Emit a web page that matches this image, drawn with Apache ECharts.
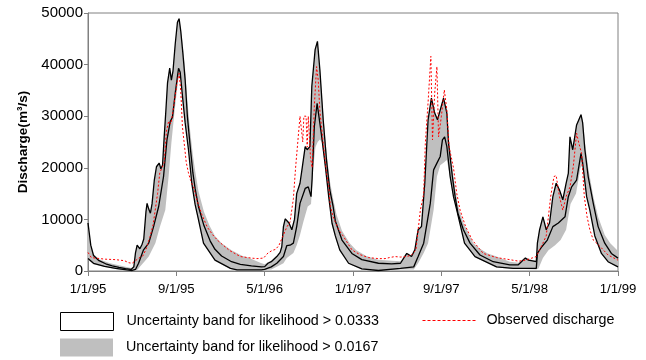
<!DOCTYPE html>
<html>
<head>
<meta charset="utf-8">
<script src="https://cdn.jsdelivr.net/npm/echarts@6/dist/echarts.min.js"></script>
<style>html,body{margin:0;padding:0;background:#fff}#c{width:646px;height:360px}</style>
</head>
<body>
<div id="c"></div>
<script>
// x values are months since 1 Jan 1995; y values are discharge in m3/s
const xTickLabels = ['1/1/95','9/1/95','5/1/96','1/1/97','9/1/97','5/1/98','1/1/99'];
const nameInner = 'Uncertainty band for likelihood > 0.0333';
const nameOuter = 'Uncertainty band for likelihood > 0.0167';
const nameObs = 'Observed discharge';

const innerUpper = [[0,9300],[0.25,5000],[0.5,3000],[1,2000],[1.6,1400],[2.2,1000],[2.8,700],[3.4,450],[3.9,300],[4.15,800],[4.3,3500],[4.45,5000],[4.7,4300],[4.9,5200],[5.05,6200],[5.25,11500],[5.35,13100],[5.5,12000],[5.65,11200],[5.8,13000],[6.0,17500],[6.2,20200],[6.45,20900],[6.6,19800],[6.75,20500],[6.9,26000],[7.05,31000],[7.2,36400],[7.4,39300],[7.55,37000],[7.7,38800],[7.9,44000],[8.1,48200],[8.25,48900],[8.4,46500],[8.6,42000],[8.8,37000],[9.0,30000],[9.26,24000],[9.5,19000],[9.7,16000],[10.0,12500],[10.5,8800],[11.07,5800],[11.5,4200],[12.1,2900],[13,1800],[13.8,1300],[14.8,1000],[15.7,800],[16.0,850],[16.3,1500],[16.6,1800],[17.1,2800],[17.4,3600],[17.55,4700],[17.7,8600],[17.86,10100],[18.2,9300],[18.46,8000],[18.7,10000],[18.9,15000],[19.2,17000],[19.4,20000],[19.67,24100],[19.85,23500],[20.1,24100],[20.27,35800],[20.57,42900],[20.78,44500],[21.0,39000],[21.3,29300],[21.6,21500],[21.9,15700],[22.2,12500],[22.4,9700],[23.0,6000],[23.9,3400],[24.8,2200],[26.3,1500],[27.5,1400],[28.3,1500],[28.87,3400],[29.3,2800],[29.6,4100],[29.9,8000],[30.2,8600],[30.5,17000],[30.8,29300],[31.1,33500],[31.4,30600],[31.65,29300],[31.9,31200],[32.2,33500],[32.5,30600],[32.65,24800],[33.0,18300],[33.25,14400],[33.5,11200],[34.0,8000],[34.6,5400],[35.5,3100],[36.7,1800],[38.2,1200],[38.97,1200],[39.6,2500],[39.9,2100],[40.6,1800],[40.7,5400],[40.9,8000],[41.2,10500],[41.5,8000],[41.8,9300],[42.1,14400],[42.4,17000],[42.7,15700],[43.0,13800],[43.3,17000],[43.5,18900],[43.65,26000],[43.9,23500],[44.25,28300],[44.65,30300],[44.8,28700],[45.0,23500],[45.3,18300],[45.76,13100],[46.2,8600],[46.8,5400],[47.4,3400],[48,2500]];

const innerLower = [[0,2400],[0.5,1500],[1.5,900],[2.5,500],[3.5,200],[4.0,100],[4.3,300],[4.58,1500],[5.03,4100],[5.5,5400],[5.94,8600],[6.4,12500],[6.84,18300],[7.15,25400],[7.45,29000],[7.65,29800],[7.9,34500],[8.2,39300],[8.35,38500],[8.56,33800],[8.8,28700],[9.1,23500],[9.4,17000],[9.7,12900],[10.0,10000],[10.46,5400],[11.5,2100],[12.9,500],[13.5,200],[15.7,200],[16.0,300],[16.6,800],[17.1,1500],[17.7,2800],[18.0,4900],[18.3,5000],[18.6,5400],[18.9,8600],[19.2,13100],[19.67,16000],[19.95,16300],[20.2,14400],[20.3,18000],[20.5,28000],[20.75,32500],[21.17,26000],[21.5,20200],[21.8,14400],[22.1,9250],[22.4,6800],[22.8,4100],[23.6,1500],[24.8,400],[26.3,100],[28.3,500],[29.5,800],[29.9,2800],[30.4,5400],[31.0,13100],[31.3,19600],[31.6,20900],[31.9,22200],[32.1,25400],[32.3,26000],[32.5,24100],[32.8,18300],[33.1,14400],[33.4,11800],[34.1,5400],[35.05,2800],[37,800],[38.5,500],[39.6,500],[40.6,500],[40.7,3400],[41.1,4700],[41.6,6000],[42.1,8600],[42.6,9300],[43.2,10500],[43.5,14400],[43.8,16300],[44.25,17600],[44.65,22800],[44.8,20900],[45.16,14400],[45.45,11800],[45.9,6800],[46.5,3400],[47.1,1800],[48,800]];

const outerUpper = [[0,9300],[0.25,5200],[0.5,3300],[1,2300],[2,1500],[3,1000],[3.9,600],[4.15,1000],[4.3,3600],[4.45,5100],[4.7,4500],[4.9,5400],[5.05,6400],[5.25,11700],[5.35,13300],[5.5,12200],[5.65,11400],[5.8,13200],[6.0,17700],[6.2,20400],[6.45,21100],[6.6,20000],[6.75,20700],[6.9,26200],[7.05,31200],[7.2,36600],[7.4,39500],[7.55,37200],[7.7,39000],[7.9,44200],[8.1,48400],[8.25,49100],[8.4,47000],[8.6,43500],[8.8,39000],[9.0,33000],[9.26,27000],[9.5,22500],[9.7,19500],[10.0,15500],[10.5,11500],[11.0,8800],[11.5,6800],[12.1,5400],[13,4000],[14,2900],[14.5,2600],[15.6,1600],[16.0,1300],[16.3,1700],[16.6,2000],[17.1,3000],[17.4,3800],[17.55,4900],[17.7,8800],[17.86,10300],[18.2,9500],[18.46,8200],[18.7,10200],[18.9,15200],[19.2,17200],[19.4,20200],[19.67,24300],[19.85,23700],[20.1,24300],[20.27,36000],[20.57,43100],[20.78,44700],[21.0,39500],[21.3,30500],[21.6,23000],[21.9,17500],[22.2,14000],[22.5,11000],[23.0,7800],[23.7,5400],[24.3,4000],[25.2,2900],[26.3,2200],[27.5,2000],[28.3,1900],[28.87,3600],[29.3,3000],[29.6,4300],[29.9,8200],[30.2,8800],[30.5,17200],[30.8,29500],[31.1,33700],[31.4,30800],[31.65,29500],[31.9,31400],[32.2,33700],[32.5,30800],[32.65,26000],[33.0,19800],[33.25,16000],[33.5,12800],[34.0,9300],[34.9,5400],[35.5,4300],[36.2,3400],[37.0,2800],[38.2,1800],[38.97,1600],[39.6,2700],[39.9,2300],[40.6,2000],[40.7,5600],[40.9,8200],[41.2,10700],[41.5,8200],[41.8,9500],[42.1,14600],[42.4,17200],[42.7,15900],[43.0,14000],[43.3,17200],[43.5,19100],[43.65,26200],[43.9,23700],[44.25,28500],[44.65,30500],[44.8,29200],[45.0,25000],[45.3,20000],[45.76,14500],[46.2,10500],[46.8,7000],[47.3,5400],[48,3900]];

const outerLower = [[0,2200],[0.5,1300],[1.5,800],[2.5,400],[3.5,100],[4.0,0],[4.5,300],[4.7,800],[5.1,1800],[5.5,2800],[6.1,5400],[6.5,8500],[7.0,11800],[7.3,18300],[7.55,24800],[7.85,31200],[8.2,37600],[8.4,37000],[8.56,33500],[8.8,28500],[9.1,23300],[9.4,16800],[9.7,12700],[10.0,9800],[10.46,5300],[11.5,2000],[12.9,400],[13.5,100],[15.7,100],[16.0,200],[16.6,300],[17.1,800],[17.7,1500],[18.0,2500],[18.6,3500],[18.9,5000],[19.2,7000],[19.5,9500],[19.9,12500],[20.2,13000],[20.4,20000],[20.6,24000],[20.8,25000],[21.0,25500],[21.17,25000],[21.5,19800],[21.8,14000],[22.1,9000],[22.4,6500],[22.8,3900],[23.6,1400],[24.8,300],[26.3,0],[28.3,300],[29.5,300],[29.9,1500],[30.4,3500],[30.8,5400],[31.3,11800],[31.6,18300],[31.9,20500],[32.2,21000],[32.5,21500],[32.8,18000],[33.1,14200],[33.4,11600],[34.1,5300],[35.05,2700],[37,700],[38.5,400],[39.6,400],[40.6,300],[40.8,500],[41.2,2500],[41.7,4000],[42.3,5000],[42.8,6000],[43.3,8000],[43.7,13000],[44.2,15000],[44.6,20000],[44.8,20500],[45.16,14200],[45.45,11600],[45.9,6700],[46.5,3300],[47.1,1700],[48,700]];

const observed = [[0,3600],[0.3,2600],[0.7,2500],[1.5,2300],[2.5,2200],[3.3,2000],[3.7,1600],[4.0,1500],[4.3,2000],[4.6,2500],[5.0,3000],[5.3,4500],[5.6,6500],[5.9,9000],[6.1,12000],[6.3,15000],[6.5,19000],[6.7,20000],[6.9,21000],[7.1,27000],[7.3,29000],[7.5,28500],[7.7,31000],[7.9,34000],[8.1,37000],[8.25,38300],[8.4,35000],[8.55,28000],[8.7,25000],[8.9,21000],[9.1,19000],[9.3,17500],[9.6,16000],[9.9,13500],[10.3,11000],[10.8,8500],[11.3,7000],[11.8,5800],[12.8,4000],[13.8,2800],[14.8,2500],[15.3,2400],[15.9,2500],[16.3,3500],[16.7,4000],[17.0,4200],[17.3,5000],[17.6,6500],[18.0,8500],[18.3,9500],[18.6,14000],[18.8,20000],[19.0,25000],[19.2,30000],[19.35,30000],[19.45,25000],[19.55,30000],[19.75,30000],[19.85,24000],[19.95,30000],[20.05,30000],[20.15,22000],[20.3,20000],[20.5,32000],[20.7,39600],[20.85,37000],[21.0,31000],[21.3,24800],[21.6,19000],[21.8,16400],[21.95,12500],[22.2,10500],[22.7,8000],[23.1,6800],[23.9,4100],[24.6,3200],[25.4,2600],[26.3,2400],[26.9,2400],[27.3,2600],[27.8,2800],[28.3,2700],[28.87,2800],[29.3,3100],[29.7,4100],[30.1,11800],[30.4,14900],[30.55,24800],[30.8,32700],[31.05,41600],[31.2,25400],[31.4,34500],[31.6,39600],[31.75,26000],[32.0,29900],[32.27,35100],[32.5,31200],[32.7,24100],[33.1,20000],[33.4,15000],[33.7,11800],[34.2,8600],[34.8,6000],[35.8,3400],[37.0,2600],[38.2,2200],[39.0,1900],[39.6,2100],[40.2,2500],[40.6,2800],[40.9,4100],[41.2,5400],[41.5,6800],[41.9,14400],[42.2,18300],[42.4,18500],[42.7,14400],[43.0,11800],[43.3,14400],[43.65,16300],[43.95,20200],[44.25,26700],[44.45,24800],[44.7,22800],[44.95,14400],[45.2,10500],[45.45,8000],[45.76,6000],[46.4,4700],[47.1,3100],[48,2100]];

const chart = echarts.init(document.getElementById('c'), null, {renderer:'canvas'});
const axisGrey = '#808080';
const bandGrey = '#bfbfbf';
const legendText = {fontFamily:'Liberation Sans', fontSize:14.3, color:'#000'};

chart.setOption({
  animation:false,
  backgroundColor:'#fff',
  grid:{left:88, top:13, width:530, height:258, show:true, borderColor:axisGrey, borderWidth:1, backgroundColor:'transparent'},
  xAxis:{
    type:'value', min:0, max:48, interval:8,
    axisLine:{show:true, lineStyle:{color:axisGrey, width:1}},
    axisTick:{show:true, length:5, lineStyle:{color:axisGrey}},
    splitLine:{show:false},
    axisLabel:{margin:12, fontFamily:'Liberation Sans', fontSize:13.2, color:'#000',
      formatter:function(v){ return xTickLabels[Math.round(v/8)]; }}
  },
  yAxis:{
    type:'value', min:0, max:50000, interval:10000,
    name:'Discharge(m³/s)', nameLocation:'middle', nameGap:57, nameRotate:90,
    nameTextStyle:{fontFamily:'Liberation Sans', fontWeight:'bold', fontSize:13.6, color:'#000'},
    axisLine:{show:true, lineStyle:{color:axisGrey, width:1}},
    axisTick:{show:true, length:4, lineStyle:{color:axisGrey}},
    splitLine:{show:false},
    axisLabel:{margin:5, fontFamily:'Liberation Sans', fontSize:15, color:'#000',
      formatter:function(v){ return String(v); }}
  },
  legend:[
    {left:60, top:312, itemWidth:53, itemHeight:18, selectedMode:false, padding:0,
      textStyle:Object.assign({padding:[0,0,0,8]}, legendText),
      data:[{name:nameInner, icon:'rect', itemStyle:{color:'#fff', borderColor:'#000', borderWidth:1}}]},
    {left:60, top:338.5, itemWidth:53, itemHeight:18, selectedMode:false, padding:0,
      textStyle:Object.assign({padding:[0,0,0,8]}, legendText),
      data:[{name:nameOuter, icon:'rect', itemStyle:{color:bandGrey, borderWidth:0}}]},
    {left:422, top:313.3, itemWidth:54, itemHeight:18, selectedMode:false, padding:0,
      textStyle:Object.assign({padding:[0,0,0,5]}, legendText),
      data:[{name:nameObs, itemStyle:{opacity:0, color:'#ff0000'}, lineStyle:{color:'#ff0000', type:[3,2], width:1, opacity:1}}]}
  ],
  series:[
    {
      name:nameOuter, type:'custom', silent:true, clip:true, z:1,
      data:[[0,0]],
      renderItem:function(params, api){
        const pts = outerUpper.map(function(p){ return api.coord(p); });
        for (let i = outerLower.length - 1; i >= 0; i--) pts.push(api.coord(outerLower[i]));
        return {type:'polygon', shape:{points:pts}, style:{fill:bandGrey, stroke:null}};
      }
    },
    {name:nameInner, type:'line', data:innerUpper, symbol:'none', z:2,
      lineStyle:{color:'#000', width:1.3}, itemStyle:{color:'#000'}},
    {name:nameInner, type:'line', data:innerLower, symbol:'none', z:2,
      lineStyle:{color:'#000', width:1.3}, itemStyle:{color:'#000'}},
    {name:nameObs, type:'line', data:observed, symbol:'none', z:3,
      lineStyle:{color:'#ff0000', width:1, type:[2,2]}, itemStyle:{color:'#ff0000'}}
  ]
});
</script>
</body>
</html>
